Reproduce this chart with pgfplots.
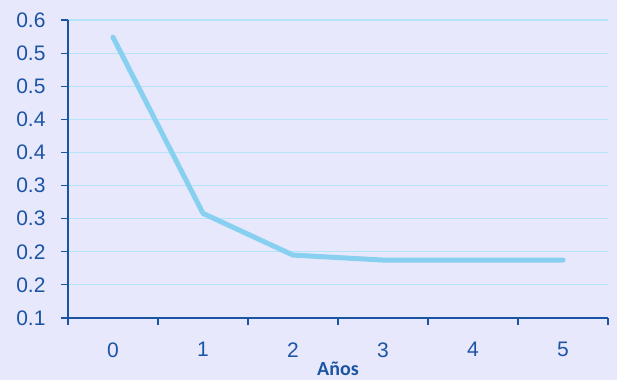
\documentclass[border=0pt]{standalone}
\usepackage{fontspec}
\setmainfont{Liberation Sans}
\newfontfamily\carlito{Carlito}
\usepackage{pgfplots}
\pgfplotsset{compat=1.18}
\definecolor{bgc}{RGB}{232,232,252}
\definecolor{gridc}{RGB}{180,228,248}
\definecolor{axc}{RGB}{28,84,164}
\definecolor{linec}{RGB}{135,208,240}
\begin{document}
\begin{tikzpicture}
\fill[bgc] (0,0) rectangle (617bp,380bp);
\begin{axis}[
  at={(68bp,62bp)}, anchor=south west,
  scale only axis, width=540bp, height=298bp,
  xmin=-0.5, xmax=5.5, ymin=0.1, ymax=0.55,
  axis x line*=bottom, axis y line*=left,
  axis line style={axc, line width=1.2bp, -},
  xtick={0,...,5},
  xticklabels={0,1,2,3,4,5},
  major x tick style={draw=none},
  minor xtick={-0.5,0.5,...,5.5},
  minor x tick style={axc, line width=1.2bp},
  minor tick length=7bp,
  ytick={0.1,0.15,...,0.56},
  yticklabels={0.1,0.2,0.2,0.3,0.3,0.4,0.4,0.5,0.5,0.6},
  y tick style={axc, line width=1.2bp},
  major tick length=7bp,
  tick align=outside,
  ymajorgrids,
  grid style={gridc, line width=1.2bp},
  /pgf/number format/assume math mode=true,
  tick label style={font=\fontsize{21bp}{25bp}\selectfont, text=axc},
  yticklabel style={xshift=-12bp},
  xticklabel style={yshift=-14bp},
  xlabel={\carlito\bfseries Años},
  xlabel style={font=\fontsize{20bp}{23bp}\selectfont, text=axc, yshift=2bp},
  clip=false,
]
\addplot[linec, line width=5bp, line cap=round, line join=round] coordinates {
 (0,0.524) (1,0.258) (2,0.195) (3,0.1875) (4,0.1875) (5,0.1875)
};
\end{axis}
\pgfresetboundingbox
\path[use as bounding box] (0,0) rectangle (617bp,380bp);
\end{tikzpicture}
\end{document}
